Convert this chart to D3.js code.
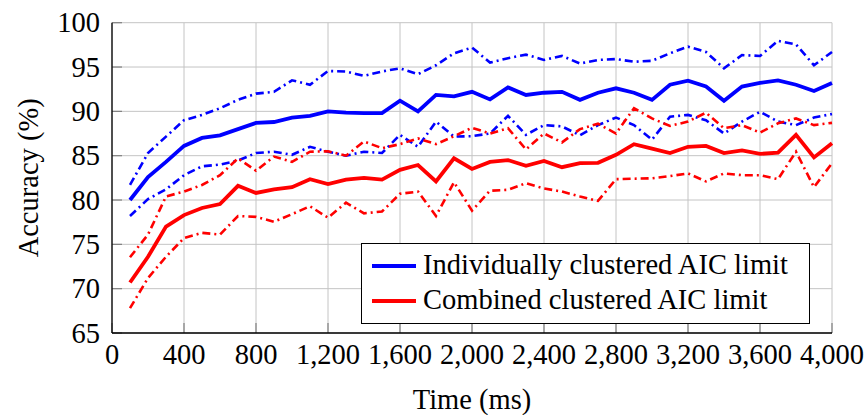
<!DOCTYPE html>
<html>
<head>
<meta charset="utf-8">
<script src="https://cdn.jsdelivr.net/npm/d3@7"></script>
<style>
  html, body { margin: 0; padding: 0; background: #fff; }
  svg { display: block; }
  text { font-family: "Liberation Serif", "Times New Roman", serif; fill: #000; }
</style>
</head>
<body>
<svg id="chart" width="867" height="415"></svg>
<script>
// Time (ms) at which accuracy was measured
const times = [100, 200, 300, 400, 500, 600, 700, 800, 900, 1000,
  1100, 1200, 1300, 1400, 1500, 1600, 1700, 1800, 1900, 2000,
  2100, 2200, 2300, 2400, 2500, 2600, 2700, 2800, 2900, 3000,
  3100, 3200, 3300, 3400, 3500, 3600, 3700, 3800, 3900, 4000];

// Individually clustered AIC limit: mean and bounds (%)
const indivMean = [80.0, 82.6, 84.3, 86.1, 87.0, 87.3, 88.0, 88.7, 88.8, 89.3,
  89.5, 90.0, 89.85, 89.8, 89.8, 91.2, 90.0, 91.85, 91.7, 92.2,
  91.35, 92.7, 91.85, 92.1, 92.2, 91.3, 92.1, 92.6, 92.1, 91.3,
  93.0, 93.45, 92.8, 91.2, 92.8, 93.2, 93.5, 93.0, 92.3, 93.2];
const indivUpper = [81.7, 85.3, 87.15, 89.0, 89.6, 90.35, 91.3, 92.0, 92.2, 93.5,
  93.0, 94.55, 94.5, 94.0, 94.5, 94.85, 94.2, 95.2, 96.55, 97.2,
  95.5, 96.0, 96.4, 95.8, 96.25, 95.4, 95.8, 95.9, 95.6, 95.7,
  96.55, 97.3, 96.7, 94.85, 96.35, 96.25, 97.95, 97.55, 95.2, 96.7];
const indivLower = [78.2, 80.1, 81.2, 82.8, 83.8, 84.0, 84.45, 85.3, 85.45, 85.1,
  86.0, 85.45, 85.0, 85.45, 85.3, 87.35, 86.0, 88.85, 87.15, 87.2,
  87.5, 89.5, 87.35, 88.45, 88.3, 87.3, 88.45, 89.3, 88.45, 86.8,
  89.4, 89.6, 89.0, 87.5, 88.85, 89.95, 88.85, 88.45, 89.3, 89.7];

// Combined clustered AIC limit: mean and bounds (%)
const combMean = [70.7, 73.6, 77.0, 78.3, 79.1, 79.55, 81.6, 80.8, 81.2, 81.45,
  82.35, 81.8, 82.3, 82.5, 82.3, 83.4, 83.95, 82.1, 84.7, 83.5,
  84.3, 84.5, 83.85, 84.4, 83.7, 84.15, 84.2, 85.1, 86.3, 85.8,
  85.3, 86.0, 86.1, 85.3, 85.6, 85.2, 85.35, 87.35, 84.8, 86.4];
const combUpper = [73.55, 76.1, 80.4, 80.95, 81.7, 82.8, 84.7, 83.3, 84.9, 84.3,
  85.45, 85.5, 85.0, 86.6, 85.85, 86.3, 86.95, 86.3, 87.2, 88.15,
  87.5, 88.1, 85.7, 87.5, 86.5, 88.0, 88.6, 87.5, 90.35, 89.2,
  88.35, 88.85, 89.85, 88.1, 88.45, 87.6, 88.65, 89.2, 88.45, 88.7];
const combLower = [67.8, 71.2, 73.6, 75.7, 76.3, 76.1, 78.2, 78.1, 77.55, 78.4,
  79.3, 78.0, 79.7, 78.5, 78.7, 80.7, 80.95, 78.2, 82.0, 78.8,
  81.05, 81.15, 81.9, 81.3, 80.95, 80.4, 79.9, 82.35, 82.4, 82.45,
  82.7, 83.0, 82.1, 83.0, 82.8, 82.8, 82.35, 85.45, 81.45, 84.15];

// Axis ticks
const xTicks = [0, 400, 800, 1200, 1600, 2000, 2400, 2800, 3200, 3600, 4000];
const yTicks = [65, 70, 75, 80, 85, 90, 95, 100];

const legendLabels = ["Individually clustered AIC limit", "Combined clustered AIC limit"];

const svg = d3.select("#chart");
const plotLeft = 112, plotRight = 832, plotTop = 22.7, plotBottom = 333;
const FS = 28.5;

const x = d3.scaleLinear().domain([0, 4000]).range([plotLeft, plotRight]);
const y = d3.scaleLinear().domain([65, 100]).range([plotBottom, plotTop]);

const BLUE = "#0000ff", RED = "#ff0000", GRID = "#c4c4c4";

// Grid
const grid = svg.append("g");
grid.selectAll("line.gx").data(xTicks).join("line")
  .attr("x1", d => x(d)).attr("x2", d => x(d))
  .attr("y1", plotTop).attr("y2", plotBottom)
  .attr("stroke", GRID).attr("stroke-width", 1);
grid.selectAll("line.gy").data(yTicks).join("line")
  .attr("x1", plotLeft).attr("x2", plotRight)
  .attr("y1", d => y(d)).attr("y2", d => y(d))
  .attr("stroke", GRID).attr("stroke-width", 1);

// Inner tick marks
const tickLen = 10;
svg.append("g").selectAll("line").data(yTicks).join("line")
  .attr("x1", plotLeft).attr("x2", plotLeft + tickLen)
  .attr("y1", d => y(d)).attr("y2", d => y(d))
  .attr("stroke", "#808080").attr("stroke-width", 1.2);
svg.append("g").selectAll("line").data(xTicks).join("line")
  .attr("x1", d => x(d)).attr("x2", d => x(d))
  .attr("y1", plotBottom).attr("y2", plotBottom - tickLen)
  .attr("stroke", "#808080").attr("stroke-width", 1.2);

// Axis lines (left and bottom dark)
svg.append("line").attr("x1", plotLeft).attr("x2", plotLeft).attr("y1", plotTop).attr("y2", plotBottom)
  .attr("stroke", "#000").attr("stroke-width", 1.3);
svg.append("line").attr("x1", plotLeft).attr("x2", plotRight).attr("y1", plotBottom).attr("y2", plotBottom)
  .attr("stroke", "#000").attr("stroke-width", 1.3);

// Tick labels
svg.append("g").selectAll("text").data(yTicks).join("text")
  .attr("x", plotLeft - 12).attr("y", d => y(d) + 9.5)
  .attr("text-anchor", "end").attr("font-size", FS)
  .text(d => d);
svg.append("g").selectAll("text").data(xTicks).join("text")
  .attr("x", d => x(d)).attr("y", 364)
  .attr("text-anchor", "middle").attr("font-size", FS)
  .text(d => d3.format(",")(d));

// Axis titles
svg.append("text").attr("x", x(2000)).attr("y", 409)
  .attr("text-anchor", "middle").attr("font-size", FS).text("Time (ms)");
svg.append("text")
  .attr("transform", `translate(38,${(plotTop + plotBottom) / 2}) rotate(-90)`)
  .attr("text-anchor", "middle").attr("font-size", FS).text("Accuracy (%)");

// Series
const line = d3.line().x((d, i) => x(times[i])).y(d => y(d));
const series = [
  { values: indivUpper, color: BLUE, dash: "8,4,2,4", w: 2.6 },
  { values: indivLower, color: BLUE, dash: "8,4,2,4", w: 2.6 },
  { values: combUpper, color: RED, dash: "8,4,2,4", w: 2.6 },
  { values: combLower, color: RED, dash: "8,4,2,4", w: 2.6 },
  { values: indivMean, color: BLUE, dash: null, w: 3.8 },
  { values: combMean, color: RED, dash: null, w: 3.8 }
];
svg.append("g").selectAll("path").data(series).join("path")
  .attr("d", d => line(d.values))
  .attr("fill", "none")
  .attr("stroke", d => d.color)
  .attr("stroke-width", d => d.w)
  .attr("stroke-linejoin", "miter")
  .attr("stroke-dasharray", d => d.dash);

// Legend
const lg = svg.append("g");
lg.append("rect").attr("x", 361.5).attr("y", 243.5).attr("width", 448).attr("height", 80)
  .attr("fill", "#fff").attr("stroke", "#000").attr("stroke-width", 1);
const legendColors = [BLUE, RED];
legendLabels.forEach((label, i) => {
  const cy = 266 + i * 35;
  lg.append("line").attr("x1", 372).attr("x2", 416).attr("y1", cy).attr("y2", cy)
    .attr("stroke", legendColors[i]).attr("stroke-width", 3.8);
  lg.append("text").attr("x", 423).attr("y", cy + 8).attr("font-size", FS).text(label);
});
</script>
</body>
</html>
